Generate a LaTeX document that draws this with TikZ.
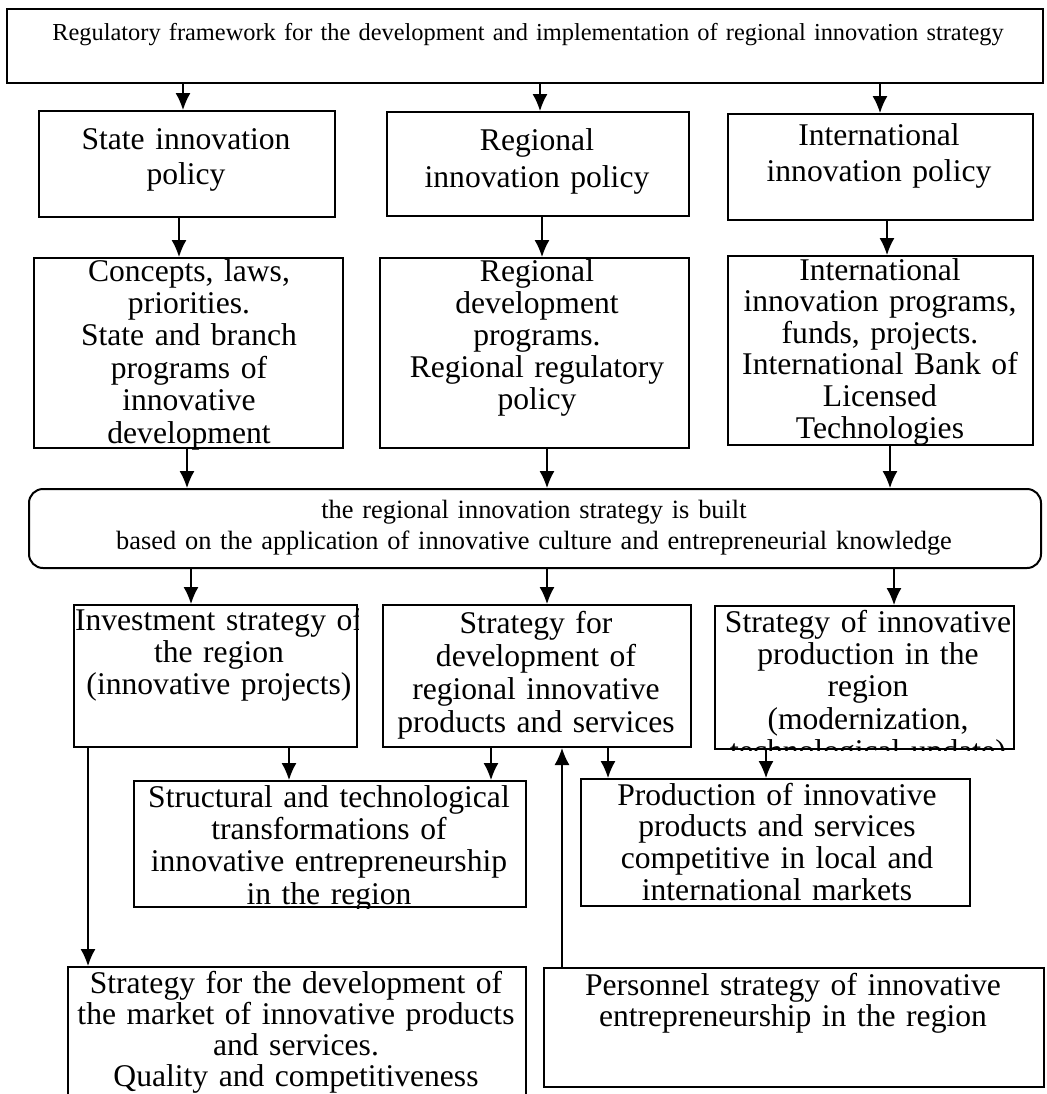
\documentclass[tikz,border=0pt]{standalone}
\usepackage{fontspec}
\setmainfont{Liberation Serif}
\usetikzlibrary{arrows.meta}

\begin{document}
\begin{tikzpicture}[x=0.5pt,y=-0.5pt,
  >={Latex[length=8.5pt,width=7.5pt]},
  box/.style 2 args={draw,line width=1pt,anchor=north west,inner sep=0pt,
    minimum width=#1*0.5pt,minimum height=#2*0.5pt},
  txt/.style={anchor=base,inner sep=0pt,align=center,text width=600pt,
    font=\fontsize{15.8pt}{16.2pt}\selectfont},
  arr/.style={->,line width=0.7pt}]
\useasboundingbox (0,0) rectangle (1046,1094);

% boxes
\node[box={1036}{74}] (top) at (6,8) {};
\node[box={296}{106}] (state) at (38,110) {};
\node[box={302}{104}] (regpol) at (386,111) {};
\node[box={305}{106}] (intpol) at (727,113) {};
\node[box={309}{190}] (concepts) at (33,257) {};
\node[box={309}{190}] (regdev) at (379,257) {};
\node[box={305}{189}] (intprog) at (727,255) {};
\node[box={1012}{79},rounded corners=7pt] (rib) at (28,488) {};
\node[box={283}{142}] (inv) at (73,604) {};
\node[box={308}{142}] (strat) at (382,604) {};
\node[box={299}{143}] (prodstrat) at (714,605) {};
\node[box={392}{126}] (struct) at (133,780) {};
\node[box={389}{127}] (prod) at (580,778) {};
\node[box={458}{138}] (market) at (67,966) {};
\node[box={500}{119}] (personnel) at (543,967) {};

% texts
\node[txt,font=\fontsize{12.2pt}{15pt}\selectfont] (topT) at (528,40)
  {Regulatory framework for the development and implementation of regional innovation strategy};
\node[txt,font=\fontsize{15.8pt}{17.8pt}\selectfont] (stateT) at (186,149) {State innovation\\policy};
\node[txt,font=\fontsize{15.8pt}{18.5pt}\selectfont] (regpolT) at (537,150) {Regional\\innovation policy};
\node[txt,font=\fontsize{15.8pt}{18pt}\selectfont] (intpolT) at (879,145) {International\\innovation policy};
\node[txt] (conceptsT) at (189,281)
  {Concepts, laws,\\priorities.\\State and branch\\programs of\\innovative\\development};
\node[txt,font=\fontsize{15.8pt}{16pt}\selectfont] (regdevT) at (537,281)
  {Regional\\development\\programs.\\Regional regulatory\\policy};
\node[txt,font=\fontsize{15.8pt}{15.8pt}\selectfont] (intprogT) at (880,280)
  {International\\innovation programs,\\funds, projects.\\International Bank of\\Licensed\\Technologies};
\node[txt,font=\fontsize{13.2pt}{15.5pt}\selectfont] (ribT) at (534,518)
  {the regional innovation strategy is built\\based on the application of innovative culture and entrepreneurial knowledge};
\begin{scope}
\clip (inv.south west) rectangle (inv.north east);
\node[txt] (invT) at (219,630) {Investment strategy of\\the region\\(innovative projects)};
\end{scope}
\node[txt,font=\fontsize{15.8pt}{16.5pt}\selectfont] (stratT) at (536,633)
  {Strategy for\\development of\\regional innovative\\products and services};
\begin{scope}
\clip (prodstrat.south west) rectangle (prodstrat.north east);
\node[txt] (prodstratT) at (868,632)
  {Strategy of innovative\\production in the\\region\\(modernization,\\technological update)};
\end{scope}
\begin{scope}
\clip (struct.south west) rectangle (struct.north east);
\node[txt] (structT) at (329,807)
  {Structural and technological\\transformations of\\innovative entrepreneurship\\in the region};
\end{scope}
\node[txt,font=\fontsize{15.8pt}{15.9pt}\selectfont] (prodT) at (777,805)
  {Production of innovative\\products and services\\competitive in local and\\international markets};
\node[txt,font=\fontsize{15.8pt}{15.5pt}\selectfont] (marketT) at (296,993)
  {Strategy for the development of\\the market of innovative products\\and services.\\Quality and competitiveness};
\node[txt,font=\fontsize{15.8pt}{15.5pt}\selectfont] (personnelT) at (793,995)
  {Personnel strategy of innovative\\entrepreneurship in the region};

% arrows
\draw[arr] (top.south -| 183,0) -- (state.north -| 183,0);
\draw[arr] (top.south -| 540,0) -- (regpol.north -| 540,0);
\draw[arr] (top.south -| 880,0) -- (intpol.north -| 880,0);
\draw[arr] (state.south -| 179,0) -- (concepts.north -| 179,0);
\draw[arr] (regpol.south -| 542,0) -- (regdev.north -| 542,0);
\draw[arr] (intpol.south -| 887,0) -- (intprog.north -| 887,0);
\draw[arr] (concepts.south -| 187,0) -- (rib.north -| 187,0);
\draw[arr] (regdev.south -| 547,0) -- (rib.north -| 547,0);
\draw[arr] (intprog.south -| 890,0) -- (rib.north -| 890,0);
\draw[arr] (rib.south -| 191,0) -- (inv.north -| 191,0);
\draw[arr] (rib.south -| 547,0) -- (strat.north -| 547,0);
\draw[arr] (rib.south -| 894,0) -- (prodstrat.north -| 894,0);
\draw[arr] (inv.south -| 289,0) -- (struct.north -| 289,0);
\draw[arr] (strat.south -| 491,0) -- (struct.north -| 491,0);
\draw[arr] (strat.south -| 608,0) -- (prod.north -| 608,0);
\draw[arr] (prodstrat.south -| 766,0) -- (prod.north -| 766,0);
\draw[arr] (inv.south -| 88,0) -- (market.north -| 88,0);
\draw[arr] (personnel.north -| 562,0) -- (strat.south -| 562,0);
\end{tikzpicture}
\end{document}
